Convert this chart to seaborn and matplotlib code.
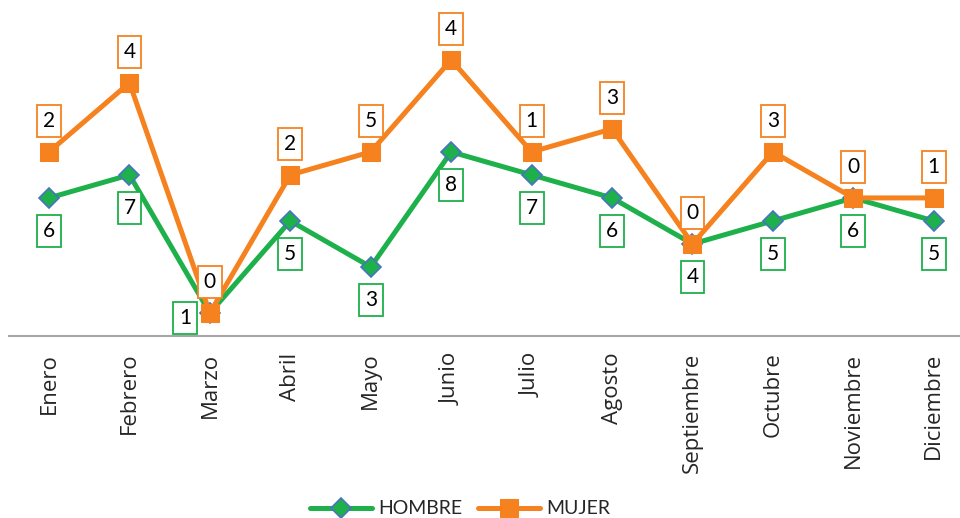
import numpy as np
import pandas as pd
import matplotlib
matplotlib.use("Agg")
import matplotlib.pyplot as plt
import seaborn as sns

# ── Data ──────────────────────────────────────────────────────────────────────
meses = ["Enero", "Febrero", "Marzo", "Abril", "Mayo", "Junio", "Julio",
         "Agosto", "Septiembre", "Octubre", "Noviembre", "Diciembre"]
hombre = [6, 7, 1, 5, 3, 8, 7, 6, 4, 5, 6, 5]
mujer = [2, 4, 0, 2, 5, 4, 1, 3, 0, 3, 0, 1]

VERDE = "#1DB04B"
AZUL = "#4A72C2"
NARANJA = "#F5821F"

sns.set_theme(style="white")
plt.rcParams["font.family"] = ["Lato", "DejaVu Sans"]

# stacked line chart (Excel "apilado")
x = np.arange(len(meses))
h = np.array(hombre)
m_top = h + np.array(mujer)
df = pd.DataFrame({"x": np.concatenate([x, x]),
                   "y": np.concatenate([h, m_top]),
                   "serie": ["HOMBRE"] * len(x) + ["MUJER"] * len(x)})

fig = plt.figure(figsize=(9.6, 5.18), dpi=100)
ax = fig.add_axes([8.8 / 960, 182 / 518, 965.2 / 960, 336 / 518])

sns.lineplot(data=df[df.serie == "HOMBRE"], x="x", y="y", ax=ax, color=VERDE,
             lw=3.6, marker="D", markersize=10, markerfacecolor=VERDE,
             markeredgecolor=AZUL, markeredgewidth=1.2, label="HOMBRE",
             zorder=3)
sns.lineplot(data=df[df.serie == "MUJER"], x="x", y="y", ax=ax, color=NARANJA,
             lw=3.6, marker="s", markersize=13, markerfacecolor=NARANJA,
             markeredgecolor=NARANJA, label="MUJER", zorder=4)

# ── Data labels ───────────────────────────────────────────────────────────────
for i in x:
    if meses[i] == "Marzo":
        off = (-25, -5)
    else:
        off = (0, -33)
    ax.annotate(str(hombre[i]), (i, h[i]), xytext=off, textcoords="offset pixels",
                ha="center", va="center", fontsize=15, color="black", zorder=5,
                bbox=dict(boxstyle="square,pad=0.28", fc="white", ec=VERDE, lw=1.3))
    ax.annotate(str(mujer[i]), (i, m_top[i]), xytext=(0, 31), textcoords="offset pixels",
                ha="center", va="center", fontsize=15, color="black", zorder=5,
                bbox=dict(boxstyle="square,pad=0.28", fc="white", ec=NARANJA, lw=1.3))

ax.set_xlim(-0.5, 11.5)
ax.set_ylim(0, 14.6)
ax.set_xticks(x)
ax.set_xticklabels(meses, rotation=90, fontsize=16, family=["Open Sans", "DejaVu Sans"])
ax.tick_params(axis="x", length=0, pad=12)
ax.set_yticks([])
ax.set_xlabel("")
ax.set_ylabel("")
for s in ["top", "right", "left"]:
    ax.spines[s].set_visible(False)
ax.spines["bottom"].set_color("#A6A6A6")
ax.spines["bottom"].set_linewidth(1.5)

ax.legend(loc="center", bbox_to_anchor=(460 / 960, 9 / 518),
          bbox_transform=fig.transFigure, ncol=2, frameon=False, fontsize=14,
          handlelength=3.2, columnspacing=0.8, handletextpad=0.3)

fig.savefig("out.png", dpi=100)
